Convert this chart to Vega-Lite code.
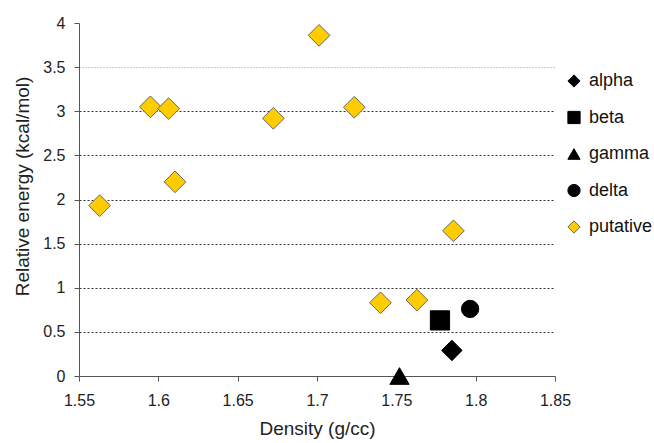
{
  "$schema": "https://vega.github.io/schema/vega-lite/v6.json",
  "autosize": {"type": "none"},
  "padding": {"left": 79, "top": 23, "right": 99, "bottom": 67},
  "width": 476,
  "height": 353,
  "background": "white",
  "config": {
    "font": "Liberation Sans",
    "view": {"stroke": null}
  },
  "data": {
    "values": [
      {"density": 1.785, "energy": 0.29, "phase": "alpha"},
      {"density": 1.7775, "energy": 0.63, "phase": "beta"},
      {"density": 1.752, "energy": 0.0, "phase": "gamma"},
      {"density": 1.7965, "energy": 0.76, "phase": "delta"},
      {"density": 1.563, "energy": 1.93, "phase": "putative"},
      {"density": 1.595, "energy": 3.05, "phase": "putative"},
      {"density": 1.6065, "energy": 3.03, "phase": "putative"},
      {"density": 1.6105, "energy": 2.2, "phase": "putative"},
      {"density": 1.6725, "energy": 2.92, "phase": "putative"},
      {"density": 1.7013, "energy": 3.86, "phase": "putative"},
      {"density": 1.7235, "energy": 3.045, "phase": "putative"},
      {"density": 1.786, "energy": 1.645, "phase": "putative"},
      {"density": 1.74, "energy": 0.83, "phase": "putative"},
      {"density": 1.763, "energy": 0.86, "phase": "putative"}
    ]
  },
  "mark": {"type": "point", "filled": true, "opacity": 1, "strokeWidth": 1},
  "encoding": {
    "x": {
      "field": "density", "type": "quantitative",
      "scale": {"domain": [1.55, 1.85], "nice": false, "zero": false},
      "axis": {
        "title": "Density (g/cc)",
        "values": [1.55, 1.6, 1.65, 1.7, 1.75, 1.8, 1.85],
        "format": "~g",
        "grid": false, "labelFlush": false,
        "domainColor": "#555", "tickColor": "#555", "tickSize": 5,
        "labelFontSize": 16, "labelColor": "#222", "labelPadding": 11,
        "titleFontSize": 19, "titleFontWeight": "normal", "titleColor": "#222", "titlePadding": 11
      }
    },
    "y": {
      "field": "energy", "type": "quantitative",
      "scale": {"domain": [0, 4], "nice": false},
      "axis": {
        "title": "Relative energy (kcal/mol)",
        "values": [0, 0.5, 1, 1.5, 2, 2.5, 3, 3.5, 4],
        "format": "~g",
        "grid": true, "labelFlush": false,
        "gridColor": {"condition": {"test": "datum.value == 3.5", "value": "#999"}, "value": "#333"},
        "gridDash": {"condition": {"test": "datum.value == 3.5", "value": [1, 2]}, "value": [2, 2]},
        "gridOpacity": {"condition": {"test": "datum.value == 4 || datum.value == 0", "value": 0}, "value": 1},
        "domainColor": "#555", "tickColor": "#555", "tickSize": 5,
        "labelFontSize": 16, "labelColor": "#222", "labelPadding": 9,
        "titleFontSize": 19, "titleFontWeight": "normal", "titleColor": "#222",
        "titleX": -57, "titleY": 163, "titleBaseline": "middle", "titleAngle": 270
      }
    },
    "shape": {
      "field": "phase", "type": "nominal",
      "scale": {"domain": ["alpha", "beta", "gamma", "delta", "putative"], "range": ["diamond", "square", "triangle-up", "circle", "diamond"]},
      "legend": {
        "title": null, "orient": "none", "legendX": 486, "legendY": 49, "padding": 0,
        "labelFontSize": 18, "labelColor": "#111", "rowPadding": 18.5, "symbolSize": 150,
        "symbolStrokeWidth": 1, "labelOffset": 6
      }
    },
    "fill": {
      "field": "phase", "type": "nominal",
      "scale": {"domain": ["alpha", "beta", "gamma", "delta", "putative"], "range": ["black", "black", "black", "black", "#FFCC00"]}
    },
    "stroke": {
      "field": "phase", "type": "nominal",
      "scale": {"domain": ["alpha", "beta", "gamma", "delta", "putative"], "range": ["black", "black", "black", "black", "#666666"]}
    },
    "size": {
      "condition": [
        {"test": "datum.phase == 'putative'", "value": 470},
        {"test": "datum.phase == 'alpha'", "value": 420},
        {"test": "datum.phase == 'delta'", "value": 300}
      ],
      "value": 370
    }
  }
}
